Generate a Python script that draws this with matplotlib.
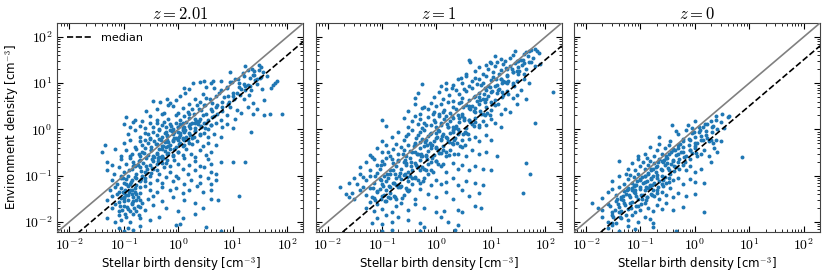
import matplotlib
matplotlib.use('Agg')
import matplotlib.pyplot as plt
from matplotlib.ticker import FuncFormatter, LogLocator
import numpy as np

plt.rcParams['mathtext.fontset'] = 'cm'
plt.rcParams['font.family'] = ['DejaVu Sans']

# ---------------- data ----------------
titles = [r'$z=2.01$', r'$z=1$', r'$z=0$']
median_ratio = [0.40, 0.32, 0.32]
axis_limits = [6e-3, 2e2]

z2_birth = [
    17, 23, 25, 33, 36, 30, 9, 16, 24, 32, 42, 28,
    1.9, 2.5, 3, 4, 4.4, 6, 9, 11, 13, 19, 28, 60, 65, 55, 1.3, 1.6, 3.2, 4.5, 8, 14, 17, 22, 35, 50,
    0.35, 0.47, 0.62, 0.7, 1.1, 1.35, 2, 2.5, 3.3, 5.5, 7, 10, 12, 16, 20, 24, 37, 1.6, 4.2, 8.5, 0.9, 2.8,
    0.26, 0.41, 0.55, 0.8, 1.2, 1.5, 2.2, 2.6, 3, 4, 5, 6.5, 9, 12, 19, 14, 28, 1, 0.65, 1.8,
    0.11, 0.16, 0.3, 0.5, 0.65, 0.9, 1.1, 1.6, 2, 2.8, 3.5, 4.5, 6, 8, 11, 24, 37, 48, 80, 0.4, 1.3, 2.4, 0.22,
    0.1, 0.13, 0.15, 0.2, 0.25, 0.3, 0.35, 0.4, 0.45, 0.5, 0.55, 0.6, 0.7, 0.8, 0.9, 1, 1.1, 1.2, 1.4, 1.6,
    1.8, 2, 2.3, 2.6, 3, 3.5, 4, 5, 6.3, 8, 10, 0.75, 1.3, 2.1,
    0.12, 0.16, 0.2, 0.25, 0.3, 0.35, 0.4, 0.45, 0.5, 0.56, 0.63, 0.7, 0.8, 0.9, 1, 1.1, 1.25, 1.4, 1.6, 1.8,
    2, 2.5, 3, 3.5, 4.5, 6, 22, 0.6, 0.85, 1.2, 0.28,
    0.045, 0.1, 0.13, 0.16, 0.2, 0.22, 0.25, 0.28, 0.32, 0.36, 0.4, 0.45, 0.5, 0.56, 0.63, 0.7, 0.8, 0.9, 1, 1.1,
    1.3, 1.5, 1.8, 2.2, 2.8, 3.5, 5, 0.3, 0.6, 1.2,
    0.04, 0.07, 0.09, 0.11, 0.14, 0.17, 0.2, 0.22, 0.25, 0.28, 0.32, 0.36, 0.4, 0.45, 0.5, 0.56, 0.63, 0.7, 0.8, 1,
    1.2, 1.4, 1.7, 2, 2.5, 3.2, 4, 0.19, 0.13,
    0.05, 0.06, 0.09, 0.11, 0.13, 0.15, 0.18, 0.2, 0.23, 0.26, 0.3, 0.35, 0.4, 0.5, 0.6, 0.7, 0.85, 1, 1.3, 1.6,
    2, 2.5, 3.5, 4, 6, 10, 17, 0.16, 0.45,
    0.05, 0.065, 0.08, 0.1, 0.12, 0.14, 0.17, 0.2, 0.25, 0.3, 0.35, 0.45, 0.55, 0.7, 0.9, 1.2, 1.5, 2, 2.5, 3,
    4, 5, 0.09, 0.15,
    0.06, 0.075, 0.09, 0.1, 0.11, 0.13, 0.16, 0.2, 0.25, 0.3, 0.4, 0.5, 0.6, 0.8, 1, 1.3, 1.7, 2.5, 3.5, 4, 5, 0.14,
    0.055, 0.07, 0.08, 0.09, 0.1, 0.12, 0.14, 0.16, 0.2, 0.25, 0.3, 0.4, 0.5, 0.7, 0.9, 1.2, 1.6, 2.2, 2.8, 4,
    0.05, 0.06, 0.08, 0.1, 0.12, 0.15, 0.18, 0.22, 0.28, 0.35, 0.5, 0.8, 1.3, 2, 4, 5.3, 13,
    0.06, 0.07, 0.08, 0.1, 0.12, 0.14, 0.17, 0.2, 0.25, 0.35, 0.6, 1, 2.8,
    0.05, 0.07, 0.08, 0.09, 0.11, 0.13, 0.15, 0.2, 0.3, 0.45, 1.2, 2,
    0.08, 0.1, 0.12, 0.15, 0.2, 0.9, 1.1, 3.2, 6,
]
z2_env = [
    24, 20, 18, 22, 17, 25, 17, 14, 15, 13, 14, 12,
    10, 10.5, 11, 10, 11, 11, 10.5, 12, 10, 9, 9.5, 10, 11, 9, 7.8, 7.4, 8.2, 7.8, 7.7, 7.3, 8.5, 7, 7.5, 8,
    4.2, 4, 4.5, 3.7, 5.2, 6, 4.6, 4, 4.8, 6, 5, 5.2, 6, 4.5, 5.5, 3.8, 4.4, 3.6, 3.7, 3.9, 4.3, 5.8,
    2.5, 2.7, 2.3, 3.2, 2.9, 2.4, 3.3, 2.6, 3.4, 2.8, 3.1, 2.5, 3, 2.6, 3.1, 2.3, 2.8, 2.3, 3.3, 2.7,
    1.85, 1.6, 1.9, 2.1, 1.7, 2, 1.6, 2.1, 1.7, 2, 1.6, 1.9, 1.6, 2, 1.7, 2.2, 2, 2.2, 2.2, 1.6, 1.9, 1.5, 1.5,
    1.3, 1.1, 1.45, 1.2, 1.05, 1.35, 1.15, 1.4, 1, 1.25, 1.45, 1.1, 1.3, 1, 1.4, 1.15, 1.3, 1.05, 1.45, 1.2,
    1.35, 1.05, 1.3, 1.15, 1.4, 1, 1.25, 1.4, 1.1, 1.3, 1.05, 1.2, 1.1, 1.45,
    0.8, 0.95, 0.7, 0.85, 0.65, 0.9, 0.75, 0.95, 0.68, 0.85, 0.72, 0.98, 0.78, 0.66, 0.9, 0.75, 0.95, 0.7, 0.85, 0.65,
    0.92, 0.75, 0.85, 0.68, 0.8, 0.7, 0.9, 0.9, 0.88, 0.66, 0.78,
    0.45, 0.5, 0.58, 0.42, 0.55, 0.45, 0.6, 0.5, 0.42, 0.57, 0.48, 0.62, 0.44, 0.53, 0.6, 0.46, 0.55, 0.42, 0.6, 0.5,
    0.45, 0.58, 0.48, 0.55, 0.43, 0.5, 0.45, 0.62, 0.41, 0.62,
    0.32, 0.38, 0.27, 0.35, 0.3, 0.38, 0.26, 0.33, 0.39, 0.28, 0.35, 0.25, 0.31, 0.38, 0.27, 0.34, 0.29, 0.37, 0.26, 0.33,
    0.28, 0.38, 0.3, 0.25, 0.35, 0.28, 0.32, 0.3, 0.26,
    0.2, 0.17, 0.23, 0.18, 0.24, 0.2, 0.17, 0.22, 0.19, 0.24, 0.17, 0.21, 0.18, 0.23, 0.19, 0.16, 0.22, 0.18, 0.24, 0.17,
    0.21, 0.16, 0.23, 0.18, 0.2, 0.2, 0.2, 0.16, 0.25,
    0.13, 0.11, 0.15, 0.12, 0.1, 0.14, 0.11, 0.15, 0.12, 0.1, 0.14, 0.11, 0.15, 0.12, 0.1, 0.14, 0.11, 0.13, 0.1, 0.15,
    0.12, 0.11, 0.1, 0.16,
    0.08, 0.065, 0.09, 0.07, 0.085, 0.065, 0.095, 0.075, 0.09, 0.068, 0.082, 0.07, 0.095, 0.075, 0.088, 0.066, 0.08, 0.07, 0.09, 0.065, 0.08, 0.08,
    0.05, 0.058, 0.045, 0.055, 0.042, 0.06, 0.048, 0.055, 0.043, 0.06, 0.05, 0.045, 0.058, 0.048, 0.055, 0.042, 0.05, 0.06, 0.045, 0.05,
    0.03, 0.036, 0.027, 0.033, 0.038, 0.028, 0.034, 0.026, 0.032, 0.037, 0.028, 0.035, 0.03, 0.026, 0.032, 0.03, 0.037,
    0.02, 0.024, 0.017, 0.022, 0.019, 0.024, 0.017, 0.021, 0.018, 0.023, 0.02, 0.017, 0.02,
    0.012, 0.01, 0.014, 0.011, 0.013, 0.01, 0.015, 0.012, 0.011, 0.013, 0.012, 0.015,
    0.0075, 0.0065, 0.0072, 0.0066, 0.008, 0.0085, 0.009, 0.0077, 0.0062,
]
# dense core of the z=2.01 cloud
z2_birth_core = [
    0.095, 0.105, 0.1, 0.11, 0.125, 0.135, 0.13, 0.14, 0.155, 0.165, 0.17, 0.16,
    0.19, 0.205, 0.21, 0.2, 0.215, 0.24, 0.255, 0.26, 0.25, 0.265,
    0.31, 0.325, 0.33, 0.315, 0.34, 0.39, 0.41, 0.42, 0.4, 0.43,
    0.49, 0.51, 0.52, 0.5, 0.53, 0.61, 0.64, 0.65, 0.62, 0.66,
    0.78, 0.81, 0.83, 0.79, 0.84, 0.97, 1.02, 1.04, 0.99, 1.06,
    1.22, 1.27, 1.3, 1.24, 1.32, 1.55, 1.62, 1.65, 1.58, 1.67,
    1.95, 2.03, 2.07, 1.98, 2.1, 2.45, 2.55, 2.6, 2.48,
    3.1, 3.25, 3.3, 3.15, 3.9, 4.1, 4.15, 3.95,
    4.9, 5.1, 5.2, 6.1, 6.4, 6.5, 7.8, 8.2, 8.3, 9.7, 10.3, 10.4,
    12.5, 13.2, 13.4, 15.5, 16.3, 16.6, 19.5, 20.5, 21, 24.5, 26, 31, 33,
    0.085, 0.092, 0.1, 0.105, 0.115, 0.12, 0.13, 0.14, 0.155, 0.165,
    0.18, 0.19, 0.075, 0.088, 0.095, 0.11, 0.125, 0.15, 0.17, 0.2,
]
z2_env_core = [
    0.09, 0.05, 0.035, 0.065, 0.13, 0.072, 0.048, 0.04, 0.17, 0.088, 0.062, 0.045,
    0.21, 0.125, 0.083, 0.058, 0.1, 0.31, 0.165, 0.115, 0.078, 0.14,
    0.35, 0.23, 0.145, 0.112, 0.27, 0.49, 0.29, 0.205, 0.135, 0.24,
    0.6, 0.37, 0.24, 0.185, 0.43, 0.75, 0.44, 0.31, 0.215, 0.54,
    0.92, 0.58, 0.37, 0.28, 0.65, 1.15, 0.68, 0.48, 0.33, 0.84,
    1.35, 0.88, 0.58, 0.43, 0.98, 1.75, 1.05, 0.77, 0.5, 1.32,
    2.2, 1.4, 0.92, 0.68, 1.55, 2.8, 1.65, 1.2, 0.8,
    3.4, 2.2, 1.4, 1.08, 4.5, 2.5, 1.85, 1.25,
    5.4, 3.4, 2.2, 7, 4, 3, 8.2, 5.4, 3.5, 10.8, 6.2, 4.6,
    12.5, 8.3, 5.5, 16.5, 9.6, 7.2, 19, 13, 8.7, 15, 11.5, 19.5, 13.5,
    0.022, 0.018, 0.028, 0.015, 0.021, 0.03, 0.017, 0.025, 0.02, 0.029,
    0.022, 0.014, 0.04, 0.033, 0.045, 0.038, 0.044, 0.035, 0.04, 0.03,
]

z1_birth = [
    28, 40, 55, 65, 70, 48, 35, 25, 22, 18, 4, 4.2, 15, 30, 60, 75, 45, 12,
    5, 6, 7, 8, 9, 10, 11, 12, 13, 15, 17, 19, 22, 25, 28, 32, 38, 45, 55, 65, 80, 3.5, 20, 30, 14, 9.5,
    2, 2.5, 3, 3.5, 4, 4.5, 5, 5.5, 6, 7, 8, 9, 10, 11, 13, 15, 18, 20, 25, 30, 40, 50, 0.55, 1.2, 1.5, 140, 2.8, 6.5, 12, 16,
    0.9, 1.1, 1.3, 1.5, 1.7, 2, 2.3, 2.6, 3, 3.5, 4, 4.5, 5, 6, 7, 8, 9, 10, 12, 14, 16, 20, 25, 30, 35, 45, 0.4, 0.45, 1.9, 3.2, 5.5, 7.5,
    0.3, 0.4, 0.5, 0.6, 0.7, 0.8, 0.9, 1, 1.1, 1.2, 1.4, 1.6, 1.8, 2, 2.3, 2.6, 3, 3.5, 4, 5,
    6, 7, 8, 10, 12, 15, 18, 22, 30, 0.55, 0.85, 1.3, 2.8, 4.5,
    0.1, 0.12, 0.25, 0.3, 0.35, 0.4, 0.45, 0.5, 0.55, 0.6, 0.7, 0.8, 0.9, 1, 1.1, 1.2, 1.4, 1.6, 1.8, 2,
    2.3, 2.6, 3, 3.5, 4, 4.5, 5, 6, 7, 8, 10, 12, 15, 65, 0.65, 0.95, 1.5, 2.2,
    0.1, 0.15, 0.2, 0.25, 0.3, 0.35, 0.4, 0.45, 0.5, 0.55, 0.6, 0.65, 0.7, 0.8, 0.9, 1, 1.1, 1.2, 1.3, 1.5,
    1.7, 2, 2.2, 2.5, 3, 3.5, 4, 5, 6, 8, 10, 0.75, 1.05, 0.28, 0.42, 1.8,
    0.06, 0.08, 0.1, 0.12, 0.14, 0.16, 0.18, 0.2, 0.22, 0.25, 0.28, 0.3, 0.35, 0.4, 0.45, 0.5, 0.55, 0.6, 0.7, 0.8,
    0.9, 1, 1.1, 1.3, 1.5, 1.8, 2, 2.5, 3, 3.5, 4.5, 6, 8, 13, 0.13, 0.24, 0.38, 0.65,
    0.04, 0.05, 0.06, 0.07, 0.08, 0.09, 0.1, 0.11, 0.12, 0.14, 0.16, 0.18, 0.2, 0.22, 0.25, 0.28, 0.32, 0.36, 0.4, 0.45,
    0.5, 0.6, 0.7, 0.8, 1, 1.2, 1.5, 2, 2.5, 3, 4, 5, 7, 10, 45, 0.065, 0.095, 0.15, 0.3,
    0.025, 0.03, 0.035, 0.04, 0.05, 0.06, 0.07, 0.08, 0.09, 0.1, 0.11, 0.12, 0.14, 0.16, 0.18, 0.2, 0.25, 0.3, 0.35, 0.4,
    0.5, 0.6, 0.8, 1, 1.2, 1.5, 2, 2.5, 3.5, 5, 7, 53, 0.045, 0.075, 0.13, 0.22,
    0.017, 0.022, 0.025, 0.03, 0.04, 0.05, 0.06, 0.07, 0.08, 0.09, 0.1, 0.12, 0.14, 0.17, 0.2, 0.25, 0.3, 0.4, 0.5, 0.7,
    1, 1.5, 2, 3, 4, 6, 39, 0.028, 0.045, 0.065,
    0.05, 0.06, 0.07, 0.08, 0.1, 0.12, 0.15, 0.18, 0.22, 0.3, 0.4, 0.6, 1, 1.4, 2.5, 3, 5, 6.5,
    0.08, 0.1, 0.12, 0.15, 0.2, 0.3, 0.5, 1.2, 1.6, 2.5, 0.065,
    0.1, 0.12, 0.15, 0.22, 0.5, 0.6, 2.2,
]
z1_env = [
    50, 42, 52, 55, 50, 38, 32, 40, 35, 30, 32, 28, 33, 30, 35, 45, 48, 38,
    18, 22, 16, 25, 20, 27, 17, 23, 28, 19, 26, 21, 24, 17, 27, 22, 25, 20, 28, 24, 26, 16, 15, 18, 16, 29,
    9, 12, 10, 14, 8.5, 11, 13, 9.5, 12.5, 10, 14, 8.5, 11.5, 13.5, 9, 12, 10.5, 14, 9, 11, 12, 10, 9.5, 8.5, 10, 6.5, 13, 9, 8.5, 10,
    5, 6.5, 4.5, 7.5, 5.5, 4.2, 7, 5.8, 4.8, 6.8, 4.4, 7.8, 5.2, 6, 4.6, 7.2, 5.4, 6.3, 4.3, 7.4, 5.1, 6.6, 4.7, 5.6, 7, 4.5, 4.8, 6, 7.8, 7.5, 4.1, 5.7,
    2.5, 3.5, 2.2, 3, 2.8, 3.8, 2.4, 3.2, 2.1, 3.6, 2.6, 3.9, 2.3, 3.1, 2.7, 3.7, 2.2, 3.4, 2.9, 2.4,
    3.5, 2.1, 3, 2.6, 3.3, 2.2, 2.8, 2.4, 3.6, 2.9, 2.1, 2.4, 3.9, 3.2,
    1.6, 1.2, 1.8, 1.1, 1.5, 1.9, 1.3, 1.7, 1.05, 1.4, 1.85, 1.25, 1.6, 1.1, 1.95, 1.35, 1.7, 1.15, 1.5, 1.8,
    1.2, 1.45, 1.9, 1.05, 1.6, 1.3, 1.75, 1.1, 1.5, 1.25, 1.7, 1.4, 1.15, 1.35, 1.25, 1.45, 1.9, 1.05,
    0.55, 0.7, 0.9, 0.6, 0.8, 0.95, 0.52, 0.75, 0.88, 0.62, 0.98, 0.58, 0.72, 0.85, 0.55, 0.66, 0.92, 0.6, 0.8, 0.7,
    0.53, 0.9, 0.65, 0.78, 0.58, 0.85, 0.62, 0.7, 0.55, 0.75, 0.6, 0.5, 0.95, 0.72, 0.65, 0.83,
    0.28, 0.4, 0.33, 0.46, 0.27, 0.38, 0.49, 0.3, 0.42, 0.35, 0.26, 0.45, 0.32, 0.48, 0.29, 0.4, 0.27, 0.44, 0.34, 0.47,
    0.28, 0.39, 0.31, 0.43, 0.26, 0.36, 0.48, 0.3, 0.41, 0.27, 0.35, 0.29, 0.33, 0.27, 0.32, 0.29, 0.43, 0.28,
    0.15, 0.2, 0.13, 0.23, 0.17, 0.14, 0.21, 0.18, 0.24, 0.13, 0.19, 0.16, 0.22, 0.14, 0.2, 0.17, 0.24, 0.13, 0.19, 0.15,
    0.22, 0.14, 0.18, 0.13, 0.21, 0.16, 0.12, 0.19, 0.14, 0.17, 0.13, 0.16, 0.14, 0.13, 0.19, 0.25, 0.17, 0.23, 0.12,
    0.07, 0.09, 0.065, 0.11, 0.08, 0.1, 0.07, 0.115, 0.085, 0.065, 0.1, 0.075, 0.11, 0.068, 0.09, 0.062, 0.105, 0.078, 0.065, 0.095,
    0.07, 0.088, 0.064, 0.08, 0.066, 0.072, 0.09, 0.062, 0.075, 0.068, 0.064, 0.11, 0.095, 0.1, 0.09, 0.085,
    0.056, 0.04, 0.035, 0.031, 0.048, 0.038, 0.055, 0.033, 0.045, 0.052, 0.036, 0.05, 0.042, 0.034, 0.056, 0.039, 0.047, 0.032, 0.052, 0.04,
    0.035, 0.045, 0.031, 0.05, 0.037, 0.042, 0.042, 0.042, 0.058, 0.035,
    0.02, 0.027, 0.017, 0.024, 0.019, 0.028, 0.016, 0.022, 0.026, 0.018, 0.024, 0.02, 0.016, 0.017, 0.018, 0.016, 0.022, 0.02,
    0.012, 0.009, 0.014, 0.01, 0.013, 0.011, 0.0095, 0.013, 0.01, 0.0085, 0.0095,
    0.0062, 0.0055, 0.0068, 0.0056, 0.0065, 0.0078, 0.0066,
]
# dense core of the z=1 cloud
z1_birth_core = [
    0.068, 0.074, 0.081, 0.095, 0.103, 0.108, 0.097, 0.112,
    0.125, 0.132, 0.138, 0.128, 0.141,
    0.16, 0.172, 0.165, 0.178, 0.168, 0.183,
    0.2, 0.215, 0.205, 0.222, 0.212, 0.228,
    0.26, 0.275, 0.265, 0.285, 0.27, 0.29,
    0.32, 0.335, 0.345, 0.325, 0.355, 0.315,
    0.4, 0.43, 0.415, 0.44, 0.405, 0.45,
    0.5, 0.53, 0.515, 0.545, 0.505, 0.56,
    0.62, 0.66, 0.64, 0.68, 0.63, 0.69,
    0.77, 0.82, 0.79, 0.84, 0.78, 0.86,
    0.96, 1.02, 0.98, 1.05, 0.97, 1.07,
    1.2, 1.28, 1.23, 1.31, 1.22, 1.34,
    1.55, 1.63, 1.58, 1.66, 1.52, 1.68,
    1.95, 2.05, 1.98, 2.1, 1.92, 2.12,
    2.45, 2.58, 2.5, 2.63, 2.42, 2.66,
    3.1, 3.25, 3.15, 3.3, 3.05, 3.35,
    3.9, 4.1, 3.95, 4.15, 3.85,
    4.9, 5.1, 4.95, 5.2, 4.85,
    6.1, 6.4, 6.2, 6.5, 6.0,
    7.8, 8.2, 7.9, 8.3, 7.7,
    9.7, 10.3, 9.9, 10.5, 9.6,
    12.5, 13.3, 12.8, 13.5,
    15.6, 16.5, 15.9, 16.8,
    19.5, 20.6, 19.8, 21,
    24.5, 25.8, 25, 26.3,
    31, 32.5, 31.6,
    39, 41, 40,
    49, 51,
]
z1_env_core = [
    0.055, 0.029, 0.046, 0.079, 0.061, 0.039, 0.031, 0.028,
    0.11, 0.061, 0.057, 0.035, 0.033,
    0.13, 0.108, 0.069, 0.062, 0.037, 0.031,
    0.21, 0.115, 0.1, 0.061, 0.056, 0.033,
    0.22, 0.19, 0.108, 0.092, 0.055, 0.05,
    0.34, 0.2, 0.165, 0.1, 0.088, 0.05,
    0.33, 0.29, 0.17, 0.155, 0.09, 0.079,
    0.53, 0.3, 0.27, 0.155, 0.132, 0.078,
    0.54, 0.46, 0.27, 0.23, 0.135, 0.11,
    0.81, 0.45, 0.4, 0.235, 0.2, 0.118,
    0.83, 0.68, 0.41, 0.35, 0.21, 0.175,
    1.23, 0.72, 0.62, 0.36, 0.31, 0.18,
    1.28, 1.1, 0.64, 0.55, 0.32, 0.275,
    1.98, 1.13, 0.99, 0.58, 0.5, 0.29,
    2.0, 1.76, 1.0, 0.88, 0.5, 0.44,
    3.1, 1.8, 1.56, 0.9, 0.78, 0.45,
    3.2, 2.75, 1.6, 1.43, 0.8,
    4.95, 2.9, 2.5, 1.45, 1.2,
    5.0, 4.4, 2.5, 2.2, 1.25,
    7.8, 4.5, 4.0, 2.25, 2.0,
    8.1, 6.9, 4.0, 3.5, 2.0,
    12.2, 7.2, 6.2, 3.6,
    12.5, 11, 6.4, 5.5,
    19.8, 11.3, 9.9, 5.7,
    20, 17.6, 10, 8.8,
    30.8, 18, 15.4,
    31.5, 27.5, 16,
    49, 29,
]

z0_birth = [
    0.38, 0.75, 1, 1.4, 1.7, 2.2, 2.5, 3, 3.2, 3.5, 4, 4.2, 0.9, 1.2,
    0.22, 0.35, 0.5, 0.6, 0.7, 0.8, 0.9, 1, 1.1, 1.2, 1.4, 1.6, 1.8, 2, 2.2, 2.5, 3, 0.45,
    0.12, 0.15, 0.18, 0.2, 0.22, 0.25, 0.28, 0.3, 0.33, 0.36, 0.4, 0.45, 0.5, 0.55, 0.6, 0.7, 0.8, 0.9, 1, 1.1,
    1.3, 1.5, 1.8, 2.3, 2.6, 7.5, 0.09,
    0.04, 0.06, 0.07, 0.08, 0.09, 0.1, 0.11, 0.12, 0.13, 0.14, 0.15, 0.16, 0.18, 0.2, 0.22, 0.24, 0.26, 0.28, 0.3, 0.33,
    0.36, 0.4, 0.45, 0.5, 0.6, 0.7, 0.8, 1, 1.3, 2,
    0.03, 0.04, 0.05, 0.055, 0.06, 0.07, 0.075, 0.08, 0.09, 0.1, 0.11, 0.12, 0.13, 0.14, 0.15, 0.16, 0.18, 0.2, 0.22, 0.25,
    0.28, 0.3, 0.35, 0.4, 0.5, 0.6, 0.8, 1, 1.5, 0.065, 0.085, 0.17,
    0.02, 0.025, 0.03, 0.035, 0.04, 0.045, 0.05, 0.055, 0.06, 0.065, 0.07, 0.08, 0.09, 0.1, 0.11, 0.12, 0.13, 0.14, 0.16, 0.18,
    0.2, 0.22, 0.25, 0.3, 0.35, 0.4, 0.5, 0.7, 1, 0.075, 0.15,
    0.013, 0.017, 0.02, 0.025, 0.03, 0.035, 0.04, 0.045, 0.05, 0.06, 0.07, 0.08, 0.09, 0.1, 0.12, 0.14, 0.17, 0.2, 0.25, 0.3,
    0.4, 0.6, 1.5,
    0.02, 0.025, 0.03, 0.035, 0.045, 0.06, 0.07, 0.09, 0.12, 0.15, 0.17,
    0.025, 0.03, 0.04, 0.06, 0.08, 0.17, 0.45,
]
z0_env = [
    1.25, 1.25, 1.55, 1.1, 1.3, 1.2, 1.6, 1.45, 2.1, 1.05, 1.85, 1.95, 1.05, 1.15,
    0.68, 0.55, 0.8, 0.62, 0.95, 0.58, 0.85, 0.7, 0.52, 0.9, 0.6, 0.75, 0.55, 0.58, 0.52, 0.6, 0.56, 0.92,
    0.3, 0.42, 0.27, 0.36, 0.48, 0.3, 0.4, 0.26, 0.45, 0.33, 0.38, 0.28, 0.46, 0.32, 0.42, 0.27, 0.36, 0.31, 0.44, 0.26,
    0.29, 0.35, 0.27, 0.4, 0.33, 0.25, 0.27,
    0.21, 0.14, 0.19, 0.13, 0.23, 0.16, 0.2, 0.14, 0.24, 0.17, 0.21, 0.13, 0.19, 0.16, 0.23, 0.14, 0.2, 0.17, 0.24, 0.13,
    0.18, 0.22, 0.15, 0.2, 0.17, 0.13, 0.16, 0.12, 0.14, 0.2,
    0.075, 0.1, 0.065, 0.11, 0.085, 0.07, 0.095, 0.062, 0.11, 0.08, 0.068, 0.1, 0.075, 0.115, 0.063, 0.09, 0.07, 0.105, 0.078, 0.065,
    0.095, 0.07, 0.11, 0.08, 0.09, 0.066, 0.085, 0.072, 0.068, 0.105, 0.062, 0.098,
    0.033, 0.045, 0.052, 0.038, 0.058, 0.032, 0.047, 0.04, 0.055, 0.035, 0.05, 0.042, 0.031, 0.056, 0.038, 0.048, 0.034, 0.053, 0.041, 0.036,
    0.05, 0.032, 0.045, 0.039, 0.055, 0.034, 0.042, 0.036, 0.04, 0.045, 0.059,
    0.026, 0.02, 0.018, 0.024, 0.016, 0.028, 0.021, 0.017, 0.025, 0.019, 0.027, 0.016, 0.022, 0.018, 0.026, 0.02, 0.017, 0.023, 0.019, 0.025,
    0.018, 0.021, 0.016,
    0.013, 0.01, 0.014, 0.0095, 0.012, 0.011, 0.014, 0.01, 0.013, 0.0115, 0.0095,
    0.0072, 0.0085, 0.0065, 0.008, 0.007, 0.0078, 0.0065,
]
# dense core of the z=0 cloud
z0_birth_core = [
    0.028, 0.032, 0.03, 0.034,
    0.038, 0.041, 0.043, 0.039, 0.044,
    0.048, 0.052, 0.054, 0.049, 0.056,
    0.06, 0.065, 0.067, 0.062, 0.069,
    0.077, 0.082, 0.085, 0.079, 0.087,
    0.097, 0.103, 0.107, 0.099, 0.109, 0.102,
    0.12, 0.128, 0.133, 0.123, 0.136, 0.127,
    0.155, 0.162, 0.168, 0.158, 0.171, 0.164,
    0.195, 0.203, 0.21, 0.198, 0.214, 0.206,
    0.245, 0.255, 0.262, 0.248, 0.268, 0.258,
    0.31, 0.325, 0.335, 0.315, 0.34, 0.33,
    0.39, 0.41, 0.42, 0.395, 0.43,
    0.49, 0.51, 0.52, 0.495, 0.53,
    0.61, 0.64, 0.66, 0.62,
    0.78, 0.81, 0.83, 0.79,
    0.97, 1.03, 1.05, 0.99,
    1.25, 1.32, 1.28,
    1.55, 1.65, 1.6,
    1.95, 2.05, 2.1,
    2.45, 2.6,
]
z0_env_core = [
    0.022, 0.013, 0.0095, 0.018,
    0.031, 0.016, 0.0125, 0.024, 0.034,
    0.037, 0.023, 0.014, 0.029, 0.048,
    0.052, 0.025, 0.02, 0.038, 0.055,
    0.06, 0.036, 0.022, 0.048, 0.076,
    0.085, 0.039, 0.032, 0.052, 0.094, 0.024,
    0.096, 0.057, 0.035, 0.074, 0.11, 0.03,
    0.138, 0.064, 0.05, 0.083, 0.142, 0.039,
    0.155, 0.09, 0.057, 0.118, 0.195, 0.042,
    0.21, 0.1, 0.079, 0.132, 0.22, 0.06,
    0.245, 0.143, 0.09, 0.19, 0.29, 0.074,
    0.35, 0.16, 0.127, 0.21, 0.35,
    0.39, 0.225, 0.142, 0.295, 0.48,
    0.55, 0.255, 0.2, 0.33,
    0.62, 0.36, 0.23, 0.46,
    0.86, 0.4, 0.31, 0.52,
    0.95, 0.58, 0.72,
    1.3, 0.65, 0.92,
    1.52, 0.88, 1.15,
    1.95, 1.0,
]

births = [z2_birth + z2_birth_core, z1_birth + z1_birth_core, z0_birth + z0_birth_core]
envs = [z2_env + z2_env_core, z1_env + z1_env_core, z0_env + z0_env_core]

# ---------------- figure ----------------
fig, axes = plt.subplots(1, 3, figsize=(8.3, 2.77), dpi=100, sharex=True, sharey=True)
fig.subplots_adjust(left=0.069, right=0.988, top=0.917, bottom=0.162, wspace=0.049)

fmt = FuncFormatter(lambda v, p: r'$10^{%d}$' % int(round(np.log10(v))))
line_x = np.array(axis_limits)

for i, ax in enumerate(axes):
    ax.scatter(births[i], envs[i], s=8, color='#1f77b4', linewidths=0, zorder=2)
    ax.plot(line_x, line_x, color='gray', lw=1.2, zorder=3)
    ax.plot(line_x, median_ratio[i] * line_x, color='black', ls='--', lw=1.2,
            zorder=3, label='median')
    ax.set_xscale('log')
    ax.set_yscale('log')
    ax.set_xlim(axis_limits)
    ax.set_ylim(axis_limits)
    ax.xaxis.set_major_locator(LogLocator(base=10, numticks=10))
    ax.yaxis.set_major_locator(LogLocator(base=10, numticks=10))
    ax.xaxis.set_major_formatter(fmt)
    ax.yaxis.set_major_formatter(fmt)
    ax.tick_params(which='both', direction='in', top=True, right=True, labelsize=10)
    ax.tick_params(which='major', length=4)
    ax.tick_params(which='minor', length=2)
    ax.set_title(titles[i], fontsize=12, pad=3)
    ax.set_xlabel(r'Stellar birth density [cm$^{-3}$]', fontsize=8.5, labelpad=2)
    for sp in ax.spines.values():
        sp.set_color('#444444')

axes[0].set_ylabel(r'Environment density [cm$^{-3}$]', fontsize=8.5, labelpad=2)
axes[0].legend(loc='upper left', frameon=False, fontsize=8, handlelength=2.2)

fig.savefig('out.png', dpi=100)
